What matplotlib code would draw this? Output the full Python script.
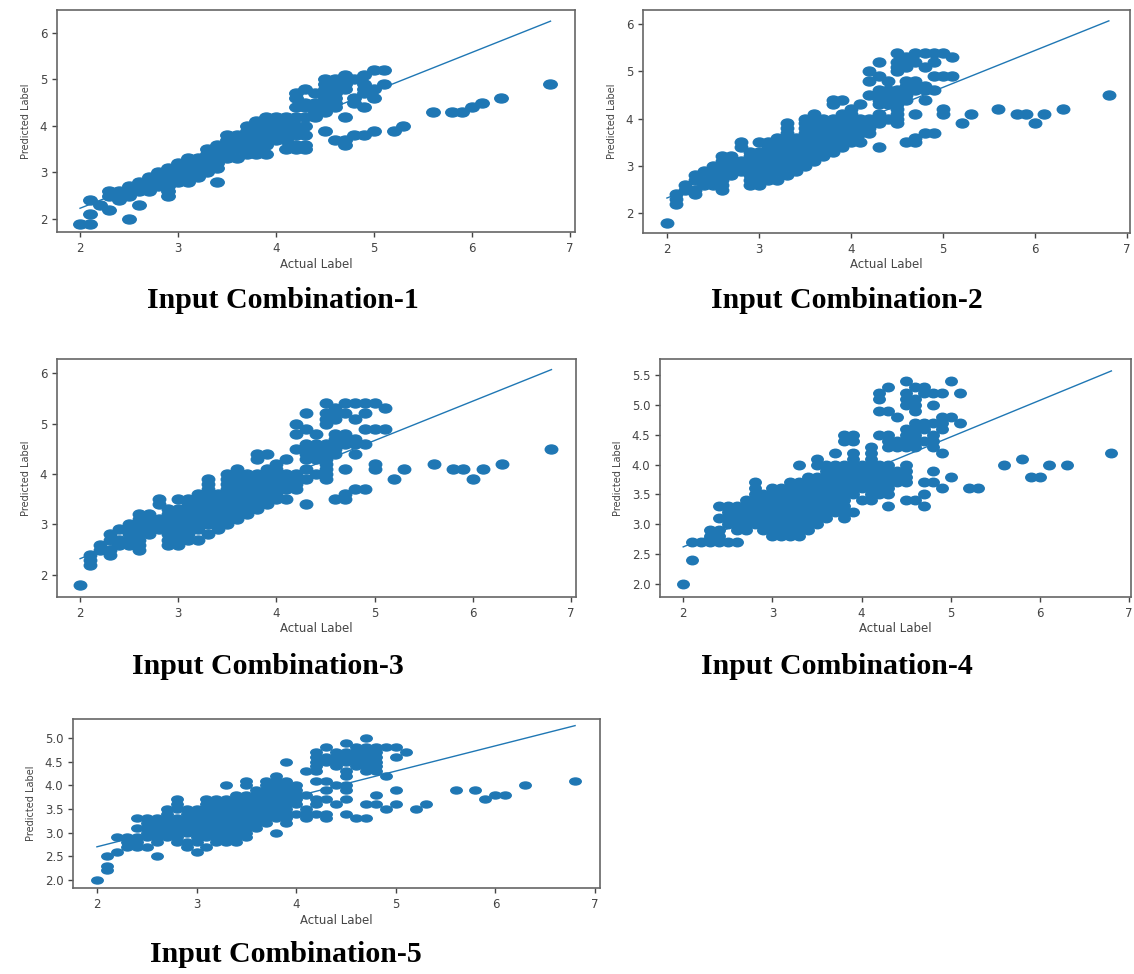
import numpy as np
import matplotlib
matplotlib.use('Agg')
import matplotlib.pyplot as plt
from matplotlib.path import Path
from matplotlib.transforms import Affine2D

# actual label -> predicted labels
cols_1 = {
    2.0: [1.9], 2.1: [1.9, 2.1, 2.4], 2.2: [2.3], 2.3: [2.2, 2.5, 2.6],
    2.4: [2.4, 2.5, 2.6], 2.5: [2.0, 2.5, 2.6, 2.7], 2.6: [2.3, 2.6, 2.7, 2.8],
    2.7: [2.6, 2.7, 2.8, 2.9], 2.8: [2.7, 2.8, 2.9, 3.0],
    2.9: [2.5, 2.6, 2.7, 2.8, 2.9, 3.0, 3.1], 3.0: [2.8, 2.9, 3.0, 3.1, 3.2],
    3.1: [2.8, 2.9, 3.0, 3.1, 3.2, 3.3], 3.2: [2.9, 3.0, 3.1, 3.2, 3.3],
    3.3: [3.0, 3.1, 3.2, 3.3, 3.4, 3.5], 3.4: [2.8, 3.1, 3.2, 3.3, 3.4, 3.5, 3.6],
    3.5: [3.3, 3.4, 3.5, 3.6, 3.7, 3.8], 3.6: [3.3, 3.5, 3.6, 3.7, 3.8],
    3.7: [3.4, 3.5, 3.6, 3.7, 3.8, 3.9, 4.0],
    3.8: [3.4, 3.5, 3.6, 3.7, 3.8, 3.9, 4.0, 4.1],
    3.9: [3.4, 3.6, 3.7, 3.8, 3.9, 4.0, 4.1, 4.2],
    4.0: [3.7, 3.8, 3.9, 4.0, 4.1, 4.2], 4.1: [3.5, 3.7, 3.8, 3.9, 4.0, 4.1, 4.2],
    4.2: [3.5, 3.6, 3.8, 3.9, 4.0, 4.2, 4.4, 4.6, 4.7],
    4.3: [3.5, 3.6, 3.8, 4.0, 4.2, 4.4, 4.5, 4.8], 4.4: [4.2, 4.3, 4.4, 4.5, 4.7],
    4.5: [3.9, 4.3, 4.4, 4.5, 4.6, 4.7, 4.8, 4.9, 5.0],
    4.6: [3.7, 4.4, 4.5, 4.6, 4.7, 4.8, 4.9, 5.0],
    4.7: [3.6, 3.7, 4.2, 4.8, 4.9, 5.0, 5.1], 4.8: [3.8, 4.5, 4.6, 5.0],
    4.9: [3.8, 4.4, 4.7, 4.8, 4.9, 5.1], 5.0: [3.9, 4.6, 4.8, 5.2], 5.1: [4.9, 5.2],
    5.2: [3.9], 5.3: [4.0], 5.6: [4.3], 5.8: [4.3], 5.9: [4.3], 6.0: [4.4],
    6.1: [4.5], 6.3: [4.6], 6.8: [4.9],
}

cols_2 = {
    2.0: [1.8], 2.1: [2.2, 2.3, 2.4], 2.2: [2.5, 2.6], 2.3: [2.4, 2.5, 2.7, 2.8],
    2.4: [2.6, 2.7, 2.9], 2.5: [2.6, 2.7, 2.8, 2.9, 3.0],
    2.6: [2.5, 2.6, 2.7, 2.8, 2.9, 3.0, 3.1, 3.2], 2.7: [2.8, 2.9, 3.0, 3.1, 3.2],
    2.8: [2.9, 3.0, 3.1, 3.4, 3.5], 2.9: [2.6, 2.7, 2.8, 2.9, 3.0, 3.1, 3.2, 3.3],
    3.0: [2.6, 2.7, 2.8, 2.9, 3.0, 3.1, 3.2, 3.3, 3.5],
    3.1: [2.7, 2.8, 2.9, 3.0, 3.1, 3.2, 3.3, 3.4, 3.5],
    3.2: [2.7, 2.9, 3.0, 3.1, 3.2, 3.3, 3.4, 3.5, 3.6],
    3.3: [2.8, 3.0, 3.1, 3.2, 3.3, 3.4, 3.5, 3.6, 3.7, 3.8, 3.9],
    3.4: [2.9, 3.0, 3.1, 3.2, 3.3, 3.4, 3.5, 3.6],
    3.5: [3.0, 3.1, 3.2, 3.3, 3.4, 3.5, 3.6, 3.7, 3.8, 3.9, 4.0],
    3.6: [3.1, 3.2, 3.3, 3.4, 3.5, 3.6, 3.7, 3.8, 3.9, 4.0, 4.1],
    3.7: [3.2, 3.3, 3.4, 3.5, 3.6, 3.7, 3.8, 3.9, 4.0],
    3.8: [3.3, 3.4, 3.5, 3.6, 3.7, 3.8, 3.9, 4.0, 4.3, 4.4],
    3.9: [3.4, 3.5, 3.6, 3.7, 3.8, 3.9, 4.0, 4.1, 4.4],
    4.0: [3.5, 3.6, 3.7, 3.8, 3.9, 4.0, 4.1, 4.2],
    4.1: [3.5, 3.7, 3.8, 3.9, 4.0, 4.3],
    4.2: [3.7, 3.8, 3.9, 4.0, 4.5, 4.8, 5.0],
    4.3: [3.4, 3.9, 4.1, 4.3, 4.4, 4.5, 4.6, 4.9, 5.2],
    4.4: [4.0, 4.3, 4.4, 4.5, 4.6, 4.8],
    4.5: [3.9, 4.0, 4.1, 4.2, 4.3, 4.4, 4.5, 4.6, 5.0, 5.1, 5.2, 5.4],
    4.6: [3.5, 4.4, 4.5, 4.6, 4.7, 4.8, 5.1, 5.2, 5.3],
    4.7: [3.5, 3.6, 4.1, 4.6, 4.7, 4.8, 5.2, 5.4],
    4.8: [3.7, 4.4, 4.6, 4.7, 5.1, 5.4], 4.9: [3.7, 4.6, 4.9, 5.2, 5.4],
    5.0: [4.1, 4.2, 4.9, 5.4], 5.1: [4.9, 5.3],
    5.2: [3.9], 5.3: [4.1], 5.6: [4.2], 5.8: [4.1], 5.9: [4.1], 6.0: [3.9],
    6.1: [4.1], 6.3: [4.2], 6.8: [4.5],
}

# panel 3 shows the same scatter as panel 2
cols_3 = dict(cols_2)

cols_4 = {
    2.0: [2.0], 2.1: [2.4, 2.7], 2.2: [2.7], 2.3: [2.7, 2.8, 2.9],
    2.4: [2.7, 2.8, 2.9, 3.1, 3.3], 2.5: [2.7, 3.0, 3.1, 3.2, 3.3],
    2.6: [2.7, 2.9, 3.0, 3.1, 3.2, 3.3], 2.7: [2.9, 3.0, 3.1, 3.2, 3.3, 3.4],
    2.8: [3.0, 3.1, 3.2, 3.3, 3.4, 3.5, 3.6, 3.7],
    2.9: [2.9, 3.0, 3.1, 3.2, 3.3, 3.4, 3.5],
    3.0: [2.8, 2.9, 3.0, 3.1, 3.2, 3.3, 3.4, 3.5, 3.6],
    3.1: [2.8, 2.9, 3.0, 3.1, 3.2, 3.3, 3.4, 3.5, 3.6],
    3.2: [2.8, 2.9, 3.0, 3.1, 3.2, 3.3, 3.4, 3.5, 3.6, 3.7],
    3.3: [2.8, 2.9, 3.0, 3.1, 3.2, 3.3, 3.4, 3.5, 3.6, 3.7, 4.0],
    3.4: [2.9, 3.0, 3.1, 3.2, 3.3, 3.4, 3.5, 3.6, 3.7, 3.8],
    3.5: [3.0, 3.1, 3.2, 3.3, 3.4, 3.5, 3.6, 3.7, 3.8, 4.0, 4.1],
    3.6: [3.1, 3.2, 3.3, 3.4, 3.5, 3.6, 3.7, 3.8, 3.9, 4.0],
    3.7: [3.2, 3.3, 3.4, 3.5, 3.6, 3.7, 3.8, 3.9, 4.0, 4.2],
    3.8: [3.1, 3.2, 3.3, 3.4, 3.5, 3.6, 3.7, 3.8, 3.9, 4.0, 4.4, 4.5],
    3.9: [3.2, 3.5, 3.6, 3.7, 3.8, 3.9, 4.0, 4.1, 4.2, 4.4, 4.5],
    4.0: [3.4, 3.6, 3.7, 3.8, 3.9, 4.0],
    4.1: [3.4, 3.5, 3.6, 3.7, 3.8, 3.9, 4.0, 4.1, 4.2, 4.3],
    4.2: [3.5, 3.6, 3.7, 3.8, 3.9, 4.0, 4.5, 4.9, 5.1, 5.2],
    4.3: [3.3, 3.5, 3.6, 3.7, 3.8, 3.9, 4.0, 4.3, 4.4, 4.5, 4.9, 5.3],
    4.4: [3.7, 3.8, 3.9, 4.3, 4.4, 4.8],
    4.5: [3.4, 3.7, 3.8, 3.9, 4.0, 4.3, 4.4, 4.5, 4.6, 5.0, 5.1, 5.2, 5.4],
    4.6: [3.4, 4.3, 4.4, 4.5, 4.6, 4.7, 4.9, 5.0, 5.1, 5.3],
    4.7: [3.3, 3.5, 3.7, 4.4, 4.6, 4.7, 5.2, 5.3],
    4.8: [3.7, 3.9, 4.3, 4.4, 4.5, 4.7, 5.0, 5.2],
    4.9: [3.6, 4.2, 4.6, 4.7, 4.8, 5.2], 5.0: [3.8, 4.8, 5.4], 5.1: [4.7, 5.2],
    5.2: [3.6], 5.3: [3.6], 5.6: [4.0], 5.8: [4.1], 5.9: [3.8], 6.0: [3.8],
    6.1: [4.0], 6.3: [4.0], 6.8: [4.2],
}

cols_5 = {
    2.0: [2.0], 2.1: [2.2, 2.3, 2.5], 2.2: [2.6, 2.9], 2.3: [2.7, 2.8, 2.9],
    2.4: [2.7, 2.8, 2.9, 3.1, 3.3], 2.5: [2.7, 2.9, 3.0, 3.1, 3.2, 3.3],
    2.6: [2.5, 2.8, 2.9, 3.0, 3.1, 3.2, 3.3],
    2.7: [2.9, 3.0, 3.1, 3.2, 3.3, 3.4, 3.5],
    2.8: [2.8, 2.9, 3.0, 3.1, 3.2, 3.3, 3.5, 3.6, 3.7],
    2.9: [2.7, 2.8, 3.0, 3.1, 3.2, 3.3, 3.4, 3.5],
    3.0: [2.6, 2.8, 2.9, 3.0, 3.1, 3.2, 3.3, 3.4, 3.5],
    3.1: [2.7, 2.9, 3.0, 3.1, 3.2, 3.3, 3.4, 3.5, 3.6, 3.7],
    3.2: [2.8, 2.9, 3.0, 3.1, 3.2, 3.3, 3.4, 3.5, 3.6, 3.7],
    3.3: [2.8, 2.9, 3.0, 3.1, 3.2, 3.3, 3.4, 3.5, 3.6, 3.7, 4.0],
    3.4: [2.8, 2.9, 3.0, 3.1, 3.2, 3.3, 3.4, 3.5, 3.6, 3.7, 3.8],
    3.5: [2.9, 3.0, 3.1, 3.2, 3.3, 3.4, 3.5, 3.6, 3.7, 3.8, 4.0, 4.1],
    3.6: [3.1, 3.2, 3.3, 3.4, 3.5, 3.6, 3.7, 3.8, 3.9],
    3.7: [3.2, 3.3, 3.4, 3.5, 3.6, 3.7, 3.8, 3.9, 4.0, 4.1],
    3.8: [3.0, 3.3, 3.4, 3.5, 3.6, 3.7, 3.8, 3.9, 4.0, 4.1, 4.2],
    3.9: [3.2, 3.3, 3.4, 3.5, 3.6, 3.7, 3.8, 3.9, 4.0, 4.1, 4.5],
    4.0: [3.4, 3.6, 3.7, 3.8, 3.9, 4.0],
    4.1: [3.3, 3.4, 3.5, 3.8, 4.3],
    4.2: [3.4, 3.6, 3.7, 4.1, 4.3, 4.4, 4.5, 4.6, 4.7],
    4.3: [3.3, 3.4, 3.7, 3.9, 4.1, 4.5, 4.6, 4.8],
    4.4: [3.6, 4.0, 4.4, 4.5, 4.6, 4.7],
    4.5: [3.4, 3.7, 3.9, 4.0, 4.2, 4.3, 4.5, 4.6, 4.7, 4.9],
    4.6: [3.3, 4.4, 4.5, 4.6, 4.7, 4.8],
    4.7: [3.3, 3.6, 4.3, 4.4, 4.5, 4.6, 4.7, 4.8, 5.0],
    4.8: [3.6, 3.8, 4.3, 4.4, 4.5, 4.6, 4.7, 4.8],
    4.9: [3.5, 4.2, 4.8], 5.0: [3.6, 3.9, 4.6, 4.8], 5.1: [4.7],
    5.2: [3.5], 5.3: [3.6], 5.6: [3.9], 5.8: [3.9], 5.9: [3.7], 6.0: [3.8],
    6.1: [3.8], 6.3: [4.0], 6.8: [4.1],
}

# fitted line end points (actual 2.0 -> 6.8)
line_x = [2.0, 6.8]
line_y_1 = [2.23, 6.25]
line_y_2 = [2.32, 6.07]
line_y_3 = [2.32, 6.07]
line_y_4 = [2.62, 5.57]
line_y_5 = [2.70, 5.26]

titles = ['Input Combination-1', 'Input Combination-2', 'Input Combination-3',
          'Input Combination-4', 'Input Combination-5']

W, H = 1134, 974
fig = plt.figure(figsize=(W / 100, H / 100), dpi=100)

def px_axes(l, t, r, b):
    return fig.add_axes([l / W, 1 - b / H, (r - l) / W, (b - t) / H])

def flat(cols):
    xs, ys = [], []
    for k, v in cols.items():
        for y in v:
            xs.append(k)
            ys.append(y)
    return xs, ys

def ellipse(w, h):
    return Path.unit_circle().transformed(Affine2D().scale(w, h))

# pixel boxes, limits, y ticks, marker (w, h) px, title center
panels = [
    (cols_1, line_y_1, (57, 10, 575, 232), (1.765, 7.05), (1.72, 6.49), [2, 3, 4, 5, 6], (13.5, 9), (283, 300), '%d'),
    (cols_2, line_y_2, (643, 10, 1130, 233), (1.74, 7.03), (1.58, 6.30), [2, 3, 4, 5, 6], (12.5, 9), (847, 300), '%d'),
    (cols_3, line_y_3, (57, 359, 576, 597), (1.765, 7.05), (1.56, 6.28), [2, 3, 4, 5, 6], (12.5, 9), (268, 666), '%d'),
    (cols_4, line_y_4, (660, 359, 1131, 597), (1.74, 7.02), (1.78, 5.77), [2.0, 2.5, 3.0, 3.5, 4.0, 4.5, 5.0, 5.5], (11.5, 8.5), (837, 666), '%.1f'),
    (cols_5, line_y_5, (73, 719, 600, 888), (1.76, 7.05), (1.83, 5.40), [2.0, 2.5, 3.0, 3.5, 4.0, 4.5, 5.0], (11.5, 7), (286, 955), '%.1f'),
]

for i, (cols, ly, box, xl, yl, yt, msz, tpos, fmt) in enumerate(panels):
    ax = px_axes(*box)
    xs, ys = flat(cols)
    w, h = msz
    ax.scatter(xs, ys, s=(w * 0.72) ** 2, marker=ellipse(w, h), color='#1f77b4')
    ax.plot(line_x, ly, color='#1f77b4', lw=1)
    ax.set_xlim(*xl)
    ax.set_ylim(*yl)
    ax.set_xticks([2, 3, 4, 5, 6, 7])
    ax.set_yticks(yt)
    ax.set_yticklabels([fmt % v for v in yt])
    ax.tick_params(labelsize=8.5, colors='#444', length=3.5, width=1)
    for sp in ax.spines.values():
        sp.set_color('#666')
        sp.set_linewidth(1.2)
    ax.set_xlabel('Actual Label', fontsize=8.5, color='#444', labelpad=2)
    ax.set_ylabel('Predicted Label', fontsize=7, color='#444', labelpad=6,
                  family=['Liberation Sans Narrow', 'DejaVu Sans'])
    fig.text(tpos[0] / W, 1 - tpos[1] / H, titles[i], ha='center', va='center',
             fontsize=21.5, fontweight='bold', family='Liberation Serif')

fig.savefig('out.png', dpi=100)
